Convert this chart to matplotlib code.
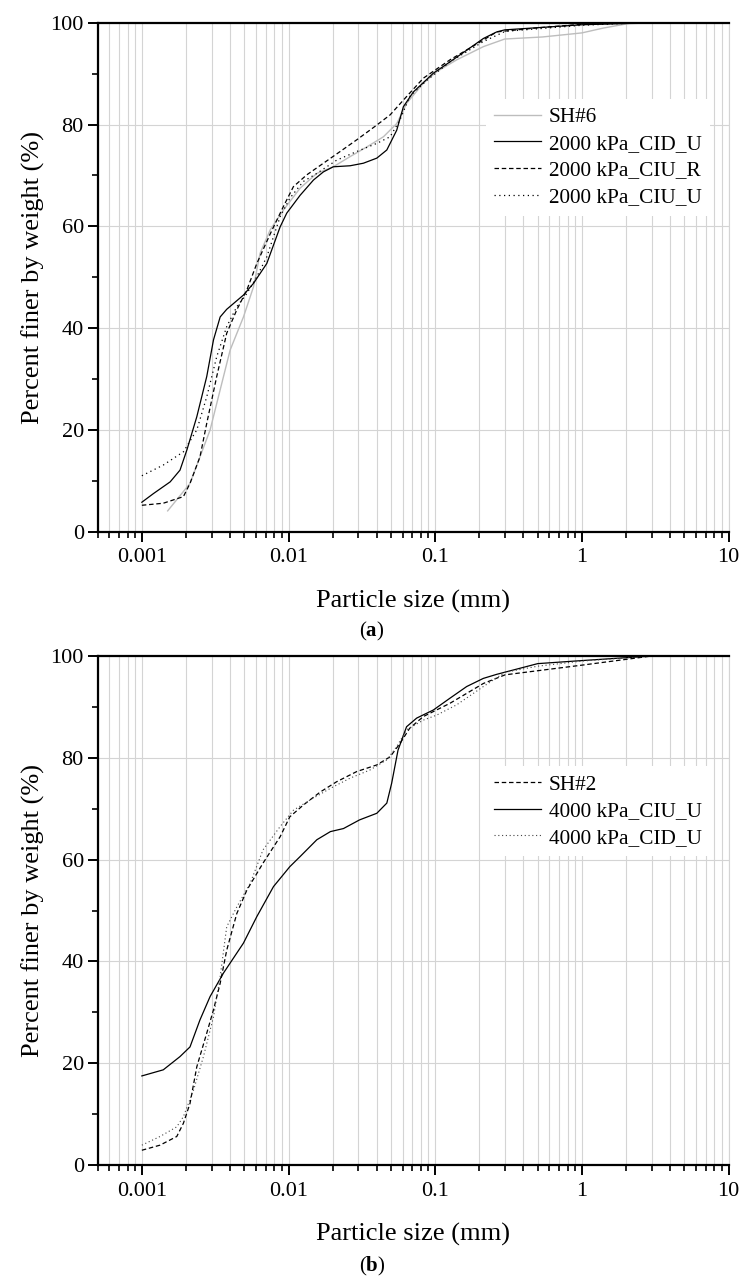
import numpy as np
import matplotlib
matplotlib.use("Agg")
import matplotlib.pyplot as plt
from matplotlib.ticker import LogLocator, NullFormatter, FixedLocator

plt.rcParams['font.family'] = ['Liberation Serif', 'DejaVu Serif']
plt.rcParams['mathtext.fontset'] = 'custom'
plt.rcParams['mathtext.rm'] = 'Liberation Serif'
plt.rcParams['mathtext.bf'] = 'Liberation Serif:bold'

# ---- panel (a) ----
sh6_x = [0.0015, 0.00213, 0.00292, 0.004, 0.00493, 0.00577, 0.0064, 0.0075, 0.00923, 0.012, 0.0156,
         0.0202, 0.0263, 0.0342, 0.0444, 0.0547, 0.064, 0.083, 0.1026, 0.14, 0.213, 0.298, 0.538,
         1.0, 1.4, 2.04, 3.0]
sh6_y = [4.1, 9.5, 20.0, 35.7, 42.2, 48.1, 54.7, 59.3, 63.2, 67.5, 70.4,
         71.7, 73.7, 75.6, 77.6, 80.2, 84.2, 88.1, 90.4, 92.7, 95.3, 96.8, 97.2,
         98.0, 98.95, 99.8, 100.0]

cidu_a_x = [0.001, 0.0012, 0.00156, 0.00182, 0.00203, 0.00237, 0.00277, 0.00308, 0.00342, 0.00379,
            0.00493, 0.00577, 0.00711, 0.00877, 0.00973, 0.012, 0.0148, 0.0173, 0.0202, 0.0263,
            0.0324, 0.04, 0.0468, 0.0547, 0.0607, 0.071, 0.0973, 0.126, 0.164, 0.213, 0.263,
            0.298, 1.0, 3.0]
cidu_a_y = [5.8, 7.5, 9.8, 12.1, 16.1, 22.6, 30.5, 37.7, 42.2, 43.7,
            46.5, 48.8, 52.7, 59.9, 62.6, 66.1, 69.1, 70.7, 71.7, 71.9,
            72.4, 73.4, 75.0, 78.9, 83.5, 86.4, 90.1, 92.3, 94.6, 96.9, 98.2,
            98.6, 99.6, 100.0]

ciur_a_x = [0.001, 0.0014, 0.00192, 0.00213, 0.00249, 0.00277, 0.00324, 0.00379, 0.00444, 0.0052,
            0.00608, 0.0075, 0.00923, 0.0108, 0.0133, 0.0173, 0.0225, 0.0292, 0.04, 0.0493,
            0.0607, 0.083, 0.126, 0.213, 0.263, 0.5, 1.0, 2.5]
ciur_a_y = [5.2, 5.6, 6.9, 9.5, 14.7, 21.3, 30.5, 39.0, 43.6, 47.5,
            52.7, 58.5, 63.9, 67.8, 70.1, 72.4, 74.7, 77.0, 79.9, 81.9,
            84.8, 89.1, 92.7, 96.6, 98.2, 99.0, 99.7, 100.0]

ciuu_a_x = [0.001, 0.0014, 0.00192, 0.00237, 0.00277, 0.00324, 0.00379, 0.00444, 0.0052, 0.00608,
            0.00711, 0.00877, 0.0102, 0.0126, 0.0156, 0.0213, 0.0292, 0.04, 0.0493, 0.0575,
            0.067, 0.0878, 0.126, 0.213, 0.3, 1.0, 2.5]
ciuu_a_y = [11.0, 13.1, 15.7, 20.0, 26.5, 34.4, 40.3, 44.2, 46.8, 50.1,
            54.0, 61.9, 65.5, 68.8, 70.4, 73.0, 74.7, 76.3, 77.6, 80.9,
            85.5, 88.7, 92.3, 96.3, 98.3, 99.5, 100.0]

# ---- panel (b) ----
sh2_x = [0.001, 0.00133, 0.00173, 0.00192, 0.00213, 0.00237, 0.00277, 0.00308, 0.00342, 0.00379,
         0.00444, 0.0052, 0.0067, 0.00877, 0.0102, 0.0126, 0.0165, 0.0213, 0.0292, 0.04,
         0.0493, 0.0575, 0.067, 0.083, 0.126, 0.213, 0.3, 1.0, 3.0]
sh2_y = [2.9, 3.9, 5.6, 8.2, 12.1, 19.3, 25.9, 30.5, 35.7, 42.2,
         49.4, 54.0, 59.3, 64.5, 68.4, 70.7, 73.3, 75.3, 77.3, 78.6,
         80.2, 82.8, 85.8, 88.1, 90.7, 94.6, 96.3, 98.2, 100.0]

ciuu_b_x = [0.001, 0.0014, 0.00182, 0.00213, 0.00249, 0.00292, 0.0036, 0.00493, 0.00608, 0.0079,
            0.0102, 0.012, 0.0156, 0.0193, 0.0237, 0.0305, 0.04, 0.0468, 0.0505, 0.0558,
            0.0638, 0.0748, 0.0973, 0.126, 0.164, 0.213, 0.263, 0.5, 1.0, 3.0]
ciuu_b_y = [17.5, 18.7, 21.3, 23.2, 28.5, 33.1, 37.7, 43.6, 48.8, 54.7,
            58.6, 60.6, 63.9, 65.5, 66.1, 67.8, 69.1, 71.1, 75.0, 81.5,
            86.1, 87.8, 89.4, 91.7, 94.0, 95.6, 96.4, 98.5, 99.1, 100.0]

cidu_b_x = [0.001, 0.00133, 0.00173, 0.00192, 0.00225, 0.00263, 0.00308, 0.00342, 0.00379, 0.00444,
            0.00547, 0.0067, 0.00877, 0.0108, 0.014, 0.0193, 0.0263, 0.0359, 0.0468, 0.0547,
            0.0638, 0.083, 0.1026, 0.14, 0.213, 0.3, 0.5, 1.0, 3.0]
cidu_b_y = [3.9, 5.6, 7.5, 9.5, 14.7, 21.3, 29.1, 37.0, 46.8, 50.7,
            55.3, 61.9, 66.5, 69.7, 71.7, 74.0, 76.0, 77.6, 79.6, 82.2,
            85.5, 87.4, 88.4, 90.4, 94.0, 96.8, 98.0, 99.0, 100.0]

x_ticks = [0.001, 0.01, 0.1, 1, 10]
x_ticklabels = ["0.001", "0.01", "0.1", "1", "10"]
y_ticks = [0, 20, 40, 60, 80, 100]
y_minor = [10, 30, 50, 70, 90]


def style_axes(ax):
    ax.set_xscale('log')
    ax.set_xlim(0.0005, 10)
    ax.set_ylim(0, 100)
    ax.xaxis.set_major_locator(FixedLocator(x_ticks))
    ax.set_xticklabels(x_ticklabels)
    ax.xaxis.set_minor_locator(LogLocator(base=10, subs=np.arange(2, 10)))
    ax.xaxis.set_minor_formatter(NullFormatter())
    ax.set_yticks(y_ticks)
    ax.yaxis.set_minor_locator(FixedLocator(y_minor))
    ax.grid(True, which='both', axis='x', color='#d4d4d4', lw=0.8)
    ax.grid(True, which='major', axis='y', color='#d4d4d4', lw=0.8)
    ax.set_axisbelow(True)
    for s in ['left', 'bottom', 'top']:
        ax.spines[s].set_linewidth(1.6)
        ax.spines[s].set_color('black')
    ax.spines['right'].set_color('#d4d4d4')
    ax.spines['right'].set_linewidth(0.8)
    ax.tick_params(which='major', direction='out', length=7, width=1.4, labelsize=16, pad=5,
                   top=False, right=False)
    ax.tick_params(which='minor', direction='out', length=4, width=1.2, top=False, right=False)
    ax.tick_params(axis='y', which='major', pad=3)
    ax.set_xlabel("Particle size (mm)", fontsize=19, labelpad=16)
    ax.set_ylabel("Percent finer by weight (%)", fontsize=19, labelpad=4)


fig = plt.figure(figsize=(7.39, 12.77), dpi=100)
ax1 = fig.add_axes([0.1322, 0.5836, 0.8536, 0.3986])
ax2 = fig.add_axes([0.1322, 0.0877, 0.8536, 0.3986])

ax1.plot(sh6_x, sh6_y, color='#bdbdbd', lw=1.0, label='SH#6')
ax1.plot(cidu_a_x, cidu_a_y, color='black', lw=0.9, label='2000 kPa_CID_U')
ax1.plot(ciur_a_x, ciur_a_y, color='black', lw=0.9, dashes=(3.6, 2.2), label='2000 kPa_CIU_R')
ax1.plot(ciuu_a_x, ciuu_a_y, color='black', lw=0.9, dashes=(1.0, 2.8), label='2000 kPa_CIU_U')
style_axes(ax1)
leg1 = ax1.legend(loc='center left', bbox_to_anchor=(0.615, 0.736), fontsize=15.3, frameon=True,
                  edgecolor='none', facecolor='white', framealpha=1, fancybox=False,
                  handlelength=2.2, handletextpad=0.38, labelspacing=0.32, borderpad=0.4,
                  borderaxespad=0)

ax2.plot(sh2_x, sh2_y, color='black', lw=0.9, dashes=(3.6, 2.2), label='SH#2')
ax2.plot(ciuu_b_x, ciuu_b_y, color='black', lw=0.9, label='4000 kPa_CIU_U')
ax2.plot(cidu_b_x, cidu_b_y, color='#444444', lw=0.8, dashes=(1.0, 2.4), label='4000 kPa_CID_U')
style_axes(ax2)
leg2 = ax2.legend(loc='center left', bbox_to_anchor=(0.615, 0.695), fontsize=15.3, frameon=True,
                  edgecolor='none', facecolor='white', framealpha=1, fancybox=False,
                  handlelength=2.2, handletextpad=0.38, labelspacing=0.32, borderpad=0.4,
                  borderaxespad=0)

fig.text(372 / 739, 1 - 631 / 1277, r"($\mathbf{a}$)", ha='center', va='center', fontsize=15)
fig.text(372 / 739, 1 - 1266 / 1277, r"($\mathbf{b}$)", ha='center', va='center', fontsize=15)

fig.savefig("out.png", dpi=100)
